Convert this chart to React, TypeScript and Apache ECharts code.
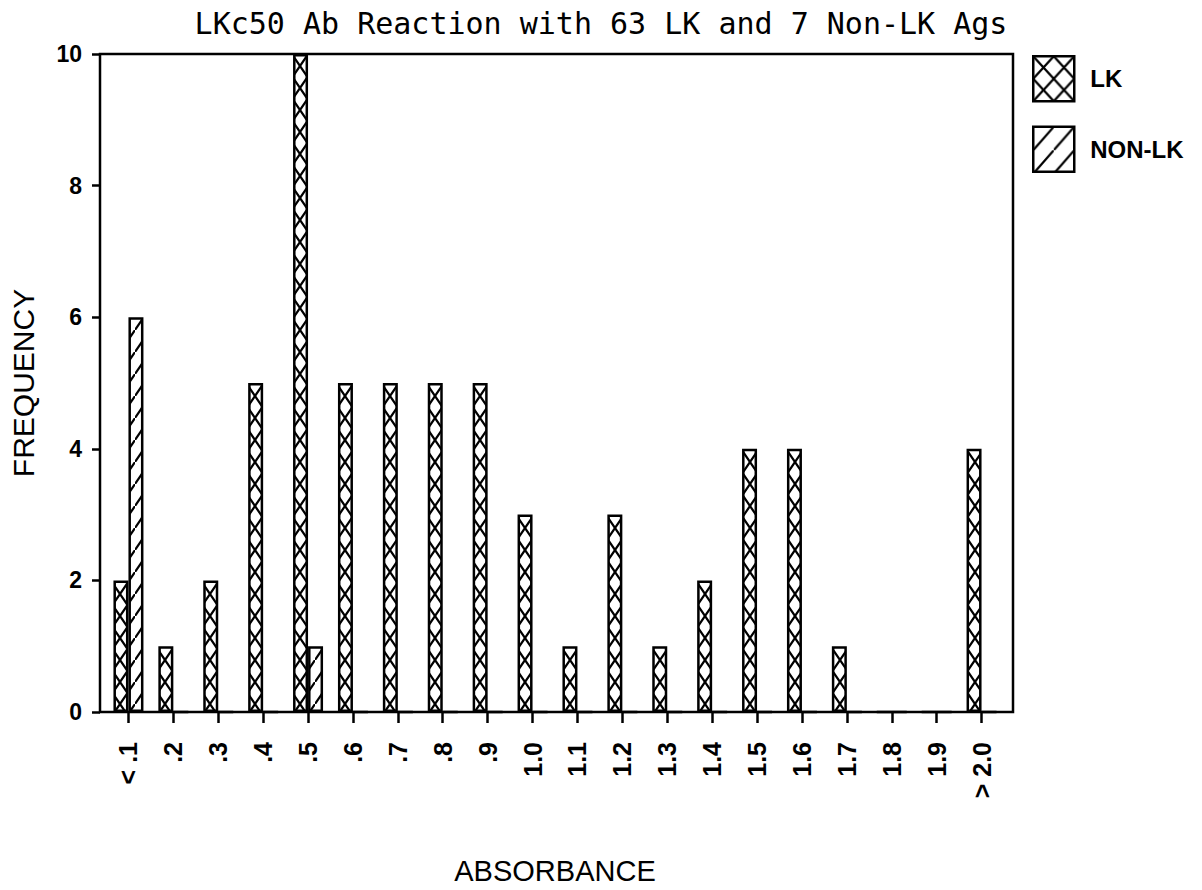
import React, { useEffect, useRef } from "react";
import * as echarts from "echarts";

const categories = [
  "< .1", ".2", ".3", ".4", ".5", ".6", ".7", ".8", ".9", "1.0",
  "1.1", "1.2", "1.3", "1.4", "1.5", "1.6", "1.7", "1.8", "1.9", "> 2.0",
];
const lkValues = [2, 1, 2, 5, 10, 5, 5, 5, 5, 3, 1, 3, 1, 2, 4, 4, 1, 0, 0, 4];
const nonLkValues = [6, 0, 0, 0, 1, 0, 0, 0, 0, 0, 0, 0, 0, 0, 0, 0, 0, 0, 0, 0];
const seriesNames = ["LK", "NON-LK"];
const yMin = 0;
const yMax = 10;
const yInterval = 2;

const titleText = "LKc50 Ab Reaction with 63 LK and 7 Non-LK Ags";
const xName = "ABSORBANCE";
const yName = "FREQUENCY";

const BAR_W = 15;
const TILE_H = 22;

function tileUrl(w: number, h: number, cross: boolean): string {
  let d = `M${-w * 0.3} ${h * 1.3}L${w * 1.3} ${-h * 0.3}`;
  if (cross) d += `M${-w * 0.3} ${-h * 0.3}L${w * 1.3} ${h * 1.3}`;
  const svg = `<svg xmlns="http://www.w3.org/2000/svg" width="${w}" height="${h}" viewBox="0 0 ${w} ${h}"><path d="${d}" stroke="#000" stroke-width="2.2" fill="none"/></svg>`;
  return "data:image/svg+xml;charset=utf-8," + encodeURIComponent(svg);
}

function pattern(w: number, h: number, cross: boolean, x: number, y: number): any {
  return {
    image: tileUrl(w, h, cross),
    repeat: "repeat",
    imageWidth: w,
    imageHeight: h,
    x,
    y,
  };
}

export default function App() {
  const ref = useRef<HTMLDivElement>(null);

  useEffect(() => {
    if (!ref.current) return;
    const chart = echarts.init(ref.current, null, { renderer: "svg" });

    const option: any = {
      animation: false,
      backgroundColor: "#ffffff",
      title: {
        text: titleText,
        left: "center",
        top: 8,
        padding: 0,
        textStyle: {
          fontFamily: "DejaVu Sans Mono",
          fontSize: 30,
          fontWeight: "normal",
          color: "#000",
        },
      },
      legend: {
        orient: "vertical",
        left: 1032,
        top: 55,
        padding: 0,
        itemWidth: 41,
        itemHeight: 45,
        itemGap: 23,
        icon: "rect",
        selectedMode: false,
        itemStyle: { borderColor: "#000", borderWidth: 2.5 },
        textStyle: {
          fontFamily: "Liberation Sans",
          fontWeight: "bold",
          fontSize: 24,
          color: "#000",
          padding: [6, 0, 0, 11],
        },
        data: [
          { name: seriesNames[0], itemStyle: { color: pattern(20.5, 22.5, true, 1032, 55) } },
          { name: seriesNames[1], itemStyle: { color: pattern(20.5, 23.5, false, 1032, 123) } },
        ],
      },
      grid: { left: 106, right: 198, top: 54, bottom: 178 },
      xAxis: {
        type: "category",
        data: categories,
        boundaryGap: true,
        name: xName,
        nameLocation: "middle",
        nameGap: 144,
        nameTextStyle: { fontFamily: "Liberation Sans", fontSize: 29, color: "#000" },
        axisLine: { show: true, lineStyle: { color: "#000", width: 2 } },
        axisTick: { show: true, alignWithLabel: true, length: 11, lineStyle: { color: "#000", width: 2.5 } },
        axisLabel: {
          rotate: 90,
          margin: 30,
          interval: 0,
          fontFamily: "Liberation Sans",
          fontWeight: "bold",
          fontSize: 25,
          color: "#000",
        },
        splitLine: { show: false },
      },
      yAxis: {
        type: "value",
        min: yMin,
        max: yMax,
        interval: yInterval,
        offset: 6,
        name: yName,
        nameLocation: "middle",
        nameGap: 62,
        nameTextStyle: { fontFamily: "Liberation Sans", fontSize: 30, color: "#000" },
        axisLine: { show: true, lineStyle: { color: "#000", width: 2 } },
        axisTick: { show: true, length: 8, lineStyle: { color: "#000", width: 2.5 } },
        axisLabel: {
          margin: 18,
          fontFamily: "Liberation Sans",
          fontWeight: "bold",
          fontSize: 23,
          color: "#000",
        },
        splitLine: { show: false },
      },
      graphic: [
        {
          type: "rect",
          z: 100,
          silent: true,
          shape: { x: 100, y: 54, width: 913, height: 658 },
          style: { fill: "none", stroke: "#000", lineWidth: 2.5 },
        },
      ],
      series: [
        {
          name: seriesNames[0],
          type: "bar",
          barWidth: BAR_W,
          barGap: "0%",
          data: lkValues,
          itemStyle: { color: pattern(BAR_W, TILE_H, true, 0, 0), borderColor: "#000", borderWidth: 2.5 },
        },
        {
          name: seriesNames[1],
          type: "bar",
          barWidth: BAR_W,
          barGap: "0%",
          data: nonLkValues,
          itemStyle: { color: pattern(BAR_W, TILE_H, false, 0, 0), borderColor: "#000", borderWidth: 2.5 },
        },
      ],
    };

    chart.setOption(option);

    const baseY = chart.convertToPixel({ yAxisIndex: 0 }, 0) as number;
    const lkData = lkValues.map((v, i) => {
      const cx = chart.convertToPixel({ xAxisIndex: 0 }, i) as number;
      return { value: v, itemStyle: { color: pattern(BAR_W, TILE_H, true, cx - BAR_W, baseY) } };
    });
    const nonLkData = nonLkValues.map((v, i) => {
      const cx = chart.convertToPixel({ xAxisIndex: 0 }, i) as number;
      return { value: v, itemStyle: { color: pattern(BAR_W, TILE_H, false, cx, baseY) } };
    });
    chart.setOption({ series: [{ data: lkData }, { data: nonLkData }] });

    return () => chart.dispose();
  }, []);

  return (
    <div
      ref={ref}
      style={{ position: "fixed", left: 0, top: 0, width: "1202px", height: "890px", background: "#fff" }}
    />
  );
}
